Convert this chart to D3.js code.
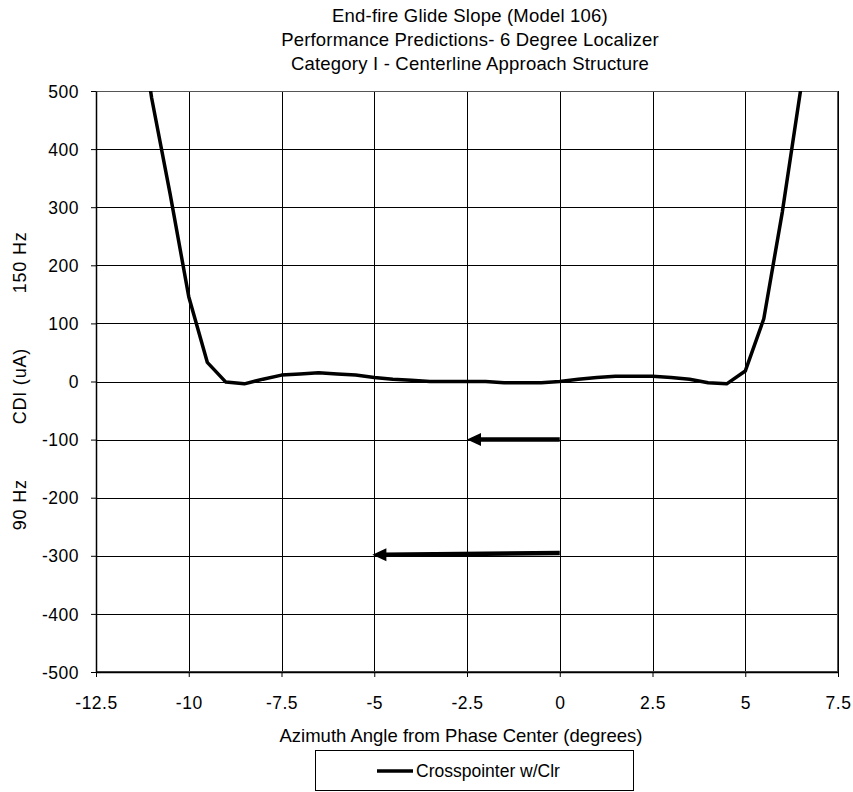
<!DOCTYPE html>
<html><head><meta charset="utf-8">
<script src="https://cdn.jsdelivr.net/npm/d3@7"></script>
<style>body{margin:0;background:#fff}svg{display:block;font-family:"Liberation Sans",Arial,sans-serif}text{fill:#000}</style>
</head><body><svg id="c" width="853" height="792"></svg>
<script>
const titleLines = ["End-fire Glide Slope (Model 106)","Performance Predictions- 6 Degree Localizer","Category I - Centerline Approach Structure"];
const xTicks = [-12.5,-10,-7.5,-5,-2.5,0,2.5,5,7.5];
const yTicks = [500,400,300,200,100,0,-100,-200,-300,-400,-500];
const angles = [-11.5,-11,-10.5,-10,-9.5,-9,-8.5,-8,-7.5,-7,-6.5,-6,-5.5,-5,-4.5,-4,-3.5,-3,-2.5,-2,-1.5,-1,-0.5,0,0.5,1,1.5,2,2.5,3,3.5,4,4.5,5,5.5,6,6.5,7];
const cdi =    [700,488,322,146,33,-1,-4,4,11,13,15,13,11,7,4,2,0,0,0,0,-2,-2,-2,0,4,7,9,9,9,7,4,-2,-4,18,108,292,505,720];
const seriesName = "Crosspointer w/Clr";
const arrows = [{x1:0,y1:-100,x2:-2.5,y2:-100},{x1:0,y1:-295,x2:-5.05,y2:-298}];
const sideLabels = [{t:"150 Hz",v:205},{t:"CDI (uA)",v:-8},{t:"90 Hz",v:-212}];

const svg = d3.select("#c");
const L=96,R=838,T=91,B=672;
const x = d3.scaleLinear().domain([-12.5,7.5]).range([L,R]);
const y = d3.scaleLinear().domain([-500,500]).range([B,T]);

svg.append("defs").append("clipPath").attr("id","clip").append("rect")
  .attr("x",L).attr("y",T).attr("width",R-L).attr("height",B-T);

// grid
const g = svg.append("g");
g.selectAll(".gx").data(xTicks).join("line")
  .attr("x1",d=>Math.round(x(d))+0.5).attr("x2",d=>Math.round(x(d))+0.5).attr("y1",T).attr("y2",B)
  .attr("stroke","#000").attr("stroke-width",1);
g.selectAll(".gy").data(yTicks).join("line")
  .attr("y1",d=>Math.round(y(d))+0.5).attr("y2",d=>Math.round(y(d))+0.5).attr("x1",L).attr("x2",R)
  .attr("stroke","#000").attr("stroke-width",1);
svg.append("rect").attr("x",L+0.5).attr("y",T+0.5).attr("width",R-L-1).attr("height",B-T-1)
  .attr("fill","none").attr("stroke","#555").attr("stroke-width",1);

// axes
const xa = svg.append("g").attr("transform",`translate(0,${B})`)
  .call(d3.axisBottom(x).tickValues(xTicks).tickSize(5).tickSizeOuter(0).tickFormat(d=>String(d)));
const ya = svg.append("g").attr("transform",`translate(${L},0)`)
  .call(d3.axisLeft(y).tickValues(yTicks).tickSize(5).tickSizeOuter(0).tickFormat(d=>String(d)));
[xa,ya].forEach(a=>{a.select(".domain").attr("stroke","#000").attr("stroke-width",1.5);
  a.selectAll("text").attr("font-size",17.5).attr("letter-spacing",0.5).attr("fill","#000").attr("font-family","Liberation Sans, Arial, sans-serif");
  a.selectAll(".tick line").attr("stroke","#000");});
xa.selectAll("text").attr("dy","0").attr("y",37);
ya.selectAll("text").attr("x",-17).attr("dy","0.35em");

// line
svg.append("path").datum(angles.map((a,i)=>[a,cdi[i]]))
  .attr("clip-path","url(#clip)")
  .attr("d",d3.line().x(d=>x(d[0])).y(d=>y(d[1])))
  .attr("fill","none").attr("stroke","#000").attr("stroke-width",3.5).attr("stroke-linejoin","round");

// arrows
const ag = svg.selectAll(".arr").data(arrows).join("g");
ag.append("line")
  .attr("x1",d=>x(d.x1)).attr("y1",d=>y(d.y1))
  .attr("x2",d=>x(d.x2)+12).attr("y2",d=>y(d.y2))
  .attr("stroke","#000").attr("stroke-width",4.5);
ag.append("path")
  .attr("d",d=>{const tx=x(d.x2),ty=y(d.y2);return `M${tx},${ty} L${tx+14},${ty-6.5} L${tx+14},${ty+6.5} Z`;})
  .attr("fill","#000");

// titles
svg.selectAll(".t").data(titleLines).join("text")
  .attr("x",(L+R)/2+3).attr("y",(d,i)=>22+i*24).attr("text-anchor","middle")
  .attr("font-size",18.5).attr("letter-spacing",0.2).text(d=>d);

svg.append("text").attr("x",(L+R)/2-6).attr("y",742).attr("text-anchor","middle")
  .attr("font-size",18.5).text("Azimuth Angle from Phase Center (degrees)");

sideLabels.forEach(s=>{
  svg.append("text").attr("transform",`translate(26,${y(s.v)}) rotate(-90)`).attr("text-anchor","middle")
    .attr("font-size",18).attr("letter-spacing",0.8).text(s.t);
});

// legend
svg.append("rect").attr("x",315.5).attr("y",750.5).attr("width",318).attr("height",40)
  .attr("fill","#fff").attr("stroke","#000").attr("stroke-width",1);
svg.append("line").attr("x1",377).attr("x2",413).attr("y1",771).attr("y2",771)
  .attr("stroke","#000").attr("stroke-width",3.5);
svg.append("text").attr("x",416).attr("y",777).attr("font-size",17.5).text(seriesName);
</script></body></html>
